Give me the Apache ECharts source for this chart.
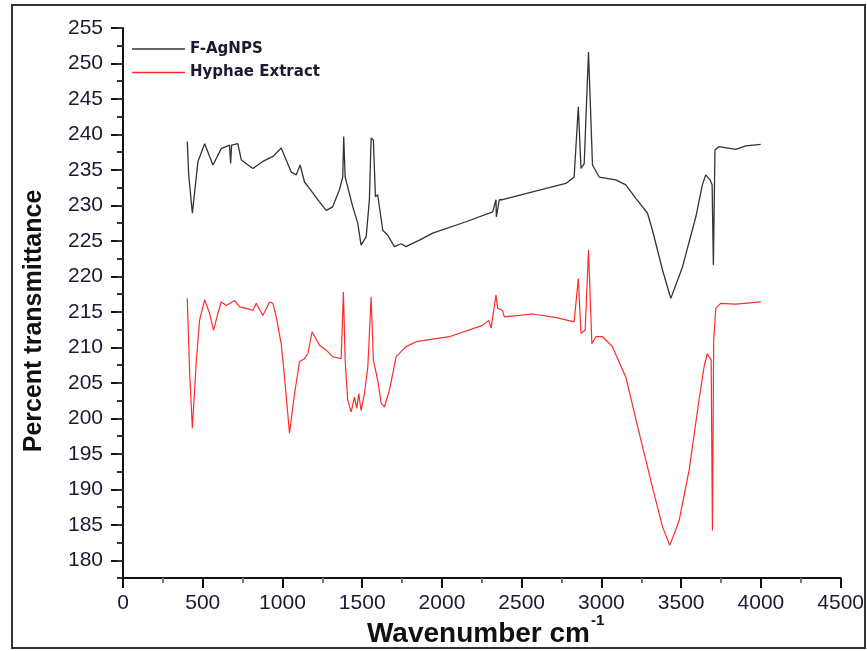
<!DOCTYPE html>
<html><head><meta charset="utf-8">
<script src="https://cdn.jsdelivr.net/npm/echarts@6/dist/echarts.min.js"></script>
<style>html,body{margin:0;padding:0;background:#fff}#c{width:867px;height:651px}</style>
</head><body><div id="c"></div>
<script>
const yTickLabels = [180,185,190,195,200,205,210,215,220,225,230,235,240,245,250,255];
const seriesNames = ['F-AgNPS', 'Hyphae Extract'];

const fagWavenumber = [403,412,435,470,512,564,616,668,675,681,720,742,814,877,940,992,1055,1086,1111,1138,1169,1232,1274,1315,1357,1378,1384,1393,1441,1472,1493,1525,1545,1556,1570,1583,1597,1629,1660,1702,1744,1775,1859,1942,2151,2318,2339,2341,2360,2380,2568,2777,2829,2855,2872,2892,2919,2944,2986,3090,3153,3216,3289,3320,3383,3435,3508,3592,3633,3654,3681,3694,3702,3712,3738,3842,3905,3999];
const fagTransmittance = [239.0,234.3,228.9,236.2,238.7,235.7,238.0,238.5,235.9,238.5,238.7,236.4,235.2,236.2,236.9,238.1,234.7,234.3,235.7,233.3,232.4,230.5,229.3,229.8,232.2,234.0,239.7,234.0,229.8,227.5,224.4,225.6,230.8,239.5,239.2,231.2,231.5,226.5,225.8,224.2,224.6,224.2,225.1,226.1,227.7,229.1,230.8,228.4,230.8,230.8,231.9,233.1,234.0,243.9,235.2,235.9,251.6,235.7,234.0,233.6,232.9,231.0,228.9,226.5,220.9,216.9,221.3,228.4,232.9,234.3,233.6,232.9,221.6,237.8,238.3,237.9,238.4,238.6];

const hyphaeWavenumber = [403,418,435,460,480,512,543,568,595,616,648,700,731,773,814,836,877,919,940,961,992,1013,1044,1076,1107,1138,1159,1186,1232,1274,1315,1368,1382,1393,1409,1431,1451,1466,1478,1493,1514,1535,1556,1570,1597,1619,1639,1671,1713,1775,1838,2046,2255,2293,2308,2339,2349,2380,2391,2568,2718,2829,2855,2872,2898,2919,2940,2965,3007,3069,3153,3237,3320,3383,3429,3487,3550,3612,3644,3664,3675,3688,3696,3704,3717,3748,3842,4000];
const hyphaeTransmittance = [216.9,206.3,198.6,208.2,213.8,216.7,214.8,212.4,214.8,216.4,215.9,216.6,215.7,215.5,215.2,216.2,214.5,216.4,216.2,214.3,210.5,205.8,197.9,203.5,208.0,208.4,209.1,212.2,210.3,209.6,208.7,208.4,217.8,208.2,202.6,200.9,203.0,201.4,203.5,201.1,203.5,207.2,217.1,208.2,205.4,202.1,201.6,204.0,208.7,210.1,210.8,211.5,213.1,213.8,212.7,217.4,215.5,215.2,214.3,214.7,214.2,213.6,219.7,212.0,212.4,223.7,210.5,211.5,211.5,210.1,205.8,197.9,190.3,184.7,182.1,185.6,192.7,202.6,207.3,209.1,208.7,208.2,184.2,211.0,215.5,216.2,216.1,216.4];

const pair = (xs, ys) => xs.map((x, i) => [x, ys[i]]);
const labelColor = '#1a1a30';
const labelFont = 'Liberation Sans';

const chart = echarts.init(document.getElementById('c'), null, {renderer: 'canvas'});
chart.setOption({
  animation: false,
  backgroundColor: '#fff',
  grid: {left: 123, right: 25, top: 28, bottom: 73, containLabel: false},
  legend: {
    orient: 'vertical', left: 127, top: 35, itemWidth: 53, itemHeight: 1.5, itemGap: 5.4,
    icon: 'rect',
    textStyle: {fontFamily: 'DejaVu Sans', fontWeight: 'bold', fontSize: 15, color: '#1a1a30', lineHeight: 18},
    data: seriesNames
  },
  xAxis: {
    type: 'value', min: 0, max: 4500, interval: 500,
    axisLine: {show: true, onZero: false, lineStyle: {color: '#111', width: 2}},
    axisTick: {show: true, length: 10, lineStyle: {color: '#111', width: 2}},
    minorTick: {show: true, splitNumber: 2, length: 5, lineStyle: {color: '#777', width: 2}},
    splitLine: {show: false},
    axisLabel: {margin: 15, fontSize: 21, color: labelColor, fontFamily: labelFont, formatter: v => String(v)}
  },
  yAxis: [{
    type: 'value', min: 177.5, max: 255,
    axisLine: {show: true, onZero: false, lineStyle: {color: '#111', width: 2}},
    axisTick: {show: true, length: 12, customValues: yTickLabels, lineStyle: {color: '#111', width: 2}},
    splitLine: {show: false},
    axisLabel: {margin: 20, fontSize: 21, color: labelColor, fontFamily: labelFont, customValues: yTickLabels, formatter: v => String(v)}
  }, {
    type: 'value', min: 177.5, max: 255, interval: 2.5, position: 'left',
    axisLine: {show: false},
    axisTick: {show: true, length: 6, lineStyle: {color: '#333', width: 2}},
    splitLine: {show: false},
    axisLabel: {show: false}
  }],
  series: [{
    name: seriesNames[0], type: 'line', symbol: 'none', yAxisIndex: 0,
    data: pair(fagWavenumber, fagTransmittance),
    itemStyle: {color: '#333'},
    lineStyle: {color: '#333', width: 1.3}
  }, {
    name: seriesNames[1], type: 'line', symbol: 'none', yAxisIndex: 0,
    data: pair(hyphaeWavenumber, hyphaeTransmittance),
    itemStyle: {color: '#ff2a2a'},
    lineStyle: {color: '#ff2a2a', width: 1.2}
  }],
  graphic: [
    {type: 'rect', shape: {x: 12, y: 5, width: 853, height: 643}, style: {fill: 'none', stroke: '#333', lineWidth: 2}, silent: true},
    {type: 'text', x: 34, y: 321, rotation: Math.PI / 2,
      style: {text: 'Percent transmittance', font: 'bold 25px "Liberation Sans", Arial, sans-serif', fill: '#111', align: 'center', verticalAlign: 'middle'}},
    {type: 'text', x: 590, y: 634,
      style: {text: 'Wavenumber cm', font: 'bold 28px "Liberation Sans", Arial, sans-serif', fill: '#111', align: 'right', verticalAlign: 'middle'}},
    {type: 'text', x: 591, y: 621,
      style: {text: '-1', font: 'bold 15px "Liberation Sans", Arial, sans-serif', fill: '#111', align: 'left', verticalAlign: 'middle'}}
  ]
});
</script>
</body></html>
